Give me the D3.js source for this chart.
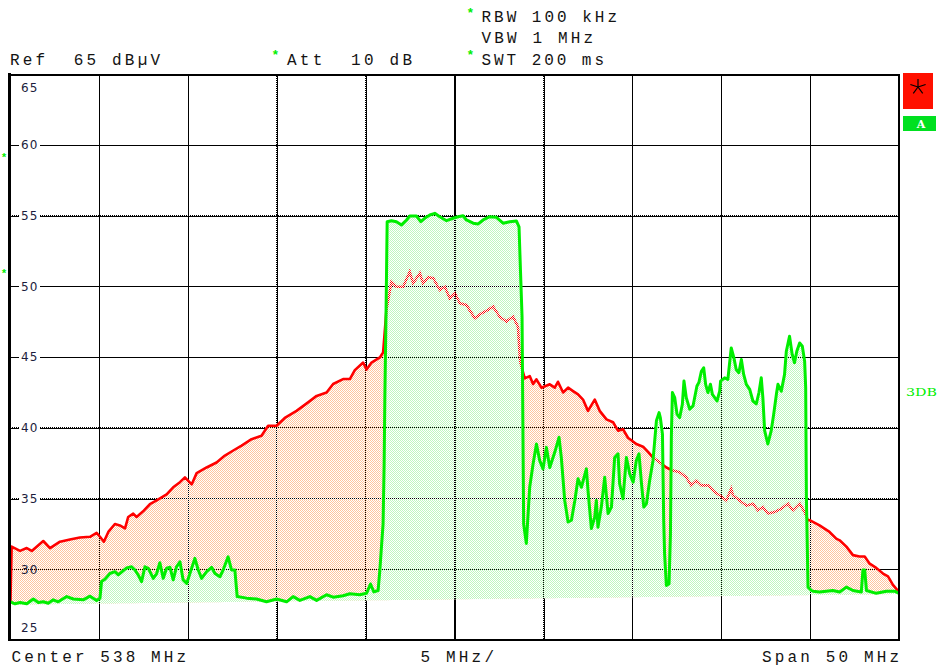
<!DOCTYPE html>
<html><head><meta charset="utf-8">
<script src="https://cdn.jsdelivr.net/npm/d3@7"></script>
<style>html,body{margin:0;padding:0;background:#fff;}svg{display:block;}text{white-space:pre;}</style>
</head><body>
<svg id="chart" width="944" height="669"></svg>
<script>
// ---------- data ----------
const freqDomain = [513, 563];            // Center 538 MHz, span 50 MHz
const levelDomain = [25, 65];             // dBµV
const freqTicks = [513, 518, 523, 528, 533, 538, 543, 548, 553, 558, 563];
const levelTicks = [25, 30, 35, 40, 45, 50, 55, 60, 65];
const levelTickLabels = ["25", "30", "35", "40", "45", "50", "55", "60", "65"];
const headerTexts = ["Ref  65 dBµV", "Att  10 dB", "RBW 100 kHz", "VBW 1 MHz", "SWT 200 ms"];
const footerTexts = ["Center 538 MHz", "5 MHz/", "Span 50 MHz"];
const sideLabel = "3DB";
const traceLabel = "A";
const fillFloor = [[513, 27.5], [563, 28.25]];

// max-hold trace (red)
const redTrace = [[513.00,27.6],[513.07,31.6],[513.54,31.3],[513.92,31.5],[514.20,31.3],[514.85,32.0],[515.23,31.5],[515.79,31.95],[516.35,32.1],[516.91,32.25],[517.48,32.3],[517.85,32.57],[518.04,32.3],[518.26,31.95],[518.51,32.64],[518.88,33.2],[519.16,33.1],[519.45,32.9],[519.63,33.7],[519.91,33.94],[520.10,33.7],[520.47,34.1],[520.85,34.6],[521.23,34.87],[521.79,35.3],[522.16,35.8],[522.54,36.16],[522.82,36.5],[523.20,36.0],[523.48,36.8],[524.04,37.2],[524.60,37.55],[525.07,38.04],[525.54,38.4],[526.01,38.75],[526.57,39.2],[527.13,39.44],[527.50,40.15],[527.98,40.15],[528.44,40.7],[529.10,41.2],[529.75,41.8],[530.23,42.26],[530.79,42.5],[531.16,43.1],[531.72,43.45],[532.10,43.45],[532.38,44.08],[532.85,44.62],[533.04,44.12],[533.32,44.62],[533.79,44.98],[533.97,45.33],[534.16,48.34],[534.44,50.34],[534.72,49.98],[535.10,49.98],[535.47,51.04],[535.66,50.22],[536.04,50.93],[536.22,50.22],[536.50,50.65],[536.79,50.58],[537.16,49.75],[537.44,49.98],[537.72,49.16],[538.01,49.52],[538.29,48.81],[538.66,48.69],[539.13,47.75],[539.51,48.1],[539.88,48.34],[540.16,48.57],[540.53,47.86],[540.91,47.51],[541.28,47.86],[541.56,47.16],[541.66,45.03],[541.70,44.6],[541.94,43.5],[542.22,43.66],[542.41,43.1],[542.60,43.43],[542.88,42.84],[543.35,43.08],[543.63,42.84],[543.81,43.26],[544.10,42.5],[544.38,42.84],[544.66,42.6],[544.94,42.37],[545.22,42.0],[545.50,41.2],[545.88,42.0],[546.16,41.2],[546.54,40.6],[546.91,40.4],[547.19,39.8],[547.47,39.9],[547.75,39.3],[548.22,38.86],[548.60,38.67],[548.88,38.3],[549.16,37.9],[549.53,37.57],[549.91,37.2],[550.28,36.98],[550.66,36.86],[551.03,36.5],[551.31,35.93],[551.60,36.28],[551.88,35.93],[552.25,35.93],[552.63,35.46],[552.91,35.23],[553.28,34.87],[553.56,35.7],[553.66,35.23],[554.03,34.87],[554.41,34.5],[554.78,34.64],[555.06,34.17],[555.34,34.4],[555.62,33.94],[556.00,34.05],[556.38,34.28],[556.75,34.64],[557.03,34.17],[557.41,34.64],[557.69,34.05],[557.87,33.47],[557.97,33.47],[558.53,33.1],[559.09,32.64],[559.47,32.17],[559.66,32.05],[560.04,31.6],[560.41,31.0],[560.78,30.9],[561.07,30.9],[561.35,30.4],[561.72,30.1],[562.10,29.7],[562.38,29.5],[562.66,28.9],[563.00,28.4]];

// clear-write trace (green)
const greenTrace = [[513.00,27.7],[513.26,27.56],[513.54,27.65],[513.92,27.56],[514.29,27.9],[514.57,27.65],[514.85,27.7],[515.13,27.6],[515.41,27.84],[515.69,27.7],[516.17,28.07],[516.54,27.9],[517.10,27.84],[517.48,28.1],[517.85,27.8],[518.04,27.96],[518.13,29.14],[518.32,29.3],[518.60,29.7],[518.88,29.83],[519.07,29.6],[519.54,30.1],[519.82,30.18],[520.01,29.95],[520.19,29.6],[520.38,29.13],[520.57,30.18],[520.76,30.07],[521.04,29.36],[521.23,29.7],[521.41,30.46],[521.60,29.36],[521.79,30.07],[521.98,30.14],[522.16,29.25],[522.35,30.18],[522.54,30.53],[522.72,29.25],[522.92,29.0],[523.10,29.7],[523.38,30.77],[523.57,29.95],[523.76,29.36],[524.04,29.83],[524.32,30.14],[524.51,29.7],[524.79,29.47],[524.97,29.95],[525.25,30.88],[525.44,29.95],[525.63,29.95],[525.76,28.07],[526.29,27.96],[526.85,27.9],[527.41,27.7],[527.98,27.9],[528.54,27.7],[528.91,28.07],[529.29,27.8],[529.85,28.07],[530.23,27.8],[530.79,28.2],[531.16,28.03],[531.72,28.13],[532.10,28.27],[532.66,28.2],[533.04,28.3],[533.26,28.96],[533.45,28.4],[533.69,28.5],[533.79,29.95],[533.88,31.6],[533.97,33.2],[534.03,37.45],[534.07,42.14],[534.13,47.5],[534.20,54.58],[534.44,54.65],[534.72,54.58],[535.01,54.35],[535.29,54.70],[535.47,54.98],[535.85,54.98],[536.09,54.58],[536.31,54.82],[536.60,55.05],[536.88,55.17],[537.16,54.93],[537.54,54.65],[537.91,54.82],[538.19,54.93],[538.47,55.0],[538.66,54.70],[539.04,54.47],[539.32,54.42],[539.60,54.70],[539.97,54.93],[540.35,54.89],[540.72,54.47],[541.10,54.58],[541.47,54.63],[541.62,54.22],[541.70,51.16],[541.79,47.86],[541.88,33.2],[542.03,31.83],[542.22,35.8],[542.41,37.45],[542.60,38.86],[542.78,37.7],[542.97,37.1],[543.16,38.62],[543.35,37.2],[543.63,38.27],[543.87,39.33],[544.00,37.9],[544.19,34.87],[544.38,33.35],[544.57,33.47],[544.76,34.87],[544.94,36.4],[545.13,35.8],[545.41,37.1],[545.50,35.58],[545.69,32.88],[545.88,33.7],[545.97,34.87],[546.06,32.98],[546.25,34.4],[546.44,36.5],[546.63,33.94],[546.82,34.4],[547.00,37.9],[547.19,38.16],[547.28,36.05],[547.47,34.99],[547.66,37.9],[547.85,36.75],[548.04,36.16],[548.22,37.7],[548.37,38.16],[548.51,36.05],[548.64,34.4],[548.79,34.64],[548.97,36.28],[549.16,37.7],[549.35,40.5],[549.50,41.08],[549.57,40.73],[549.69,39.56],[549.76,33.47],[549.81,31.1],[549.91,28.86],[550.06,28.98],[550.14,32.5],[550.19,39.33],[550.25,42.5],[550.38,42.14],[550.51,40.97],[550.66,40.73],[550.81,41.67],[550.90,43.31],[551.03,42.14],[551.22,41.32],[551.41,41.55],[551.63,42.96],[551.74,43.2],[551.88,44.0],[552.01,44.25],[552.12,43.08],[552.25,42.5],[552.39,43.08],[552.50,42.37],[552.63,42.14],[552.76,41.9],[552.91,42.6],[552.96,43.3],[553.19,43.54],[553.37,43.43],[553.56,45.65],[553.71,44.95],[553.84,44.13],[553.99,43.9],[554.13,44.84],[554.26,43.78],[554.41,43.08],[554.60,42.72],[554.78,41.9],[554.97,41.7],[555.12,42.5],[555.25,43.54],[555.34,42.14],[555.44,39.8],[555.62,38.86],[555.81,39.8],[555.95,40.97],[556.10,42.37],[556.19,43.08],[556.38,42.6],[556.56,43.78],[556.66,45.42],[556.84,46.48],[556.99,45.19],[557.12,44.6],[557.25,45.42],[557.41,46.0],[557.56,45.77],[557.69,44.72],[557.75,42.84],[557.79,35.1],[557.88,28.74],[558.07,28.5],[558.16,28.45],[558.53,28.4],[559.28,28.5],[559.66,28.4],[560.04,28.74],[560.41,28.5],[560.88,28.4],[560.97,29.95],[561.07,29.95],[561.17,28.5],[561.72,28.3],[562.29,28.45],[562.76,28.45],[563.00,28.3]];

// ---------- drawing ----------
const svg = d3.select("#chart");
const W = 944, H = 669;
const plot = {left: 10.4, right: 899, top: 74.3, bottom: 640};
const x = d3.scaleLinear().domain(freqDomain).range([plot.left, plot.right]);
const y = d3.scaleLinear().domain(levelDomain).range([plot.bottom, plot.top]);
const floorAt = d3.scaleLinear().domain(fillFloor.map(d => d[0])).range(fillFloor.map(d => d[1]));

const GREEN = "#00ee00", RED = "#ff0000", INK = "#141414";
const MONO = "'Liberation Mono','DejaVu Sans Mono',monospace";

svg.append("rect").attr("width", W).attr("height", H).attr("fill", "#fff");

const defs = svg.append("defs");
function checker(id, color, bg) {
  const p = defs.append("pattern").attr("id", id).attr("patternUnits", "userSpaceOnUse")
    .attr("width", 2).attr("height", 2);
  if (bg) p.append("rect").attr("width", 2).attr("height", 2).attr("fill", bg);
  p.append("rect").attr("x", 0).attr("y", 0).attr("width", 1).attr("height", 1).attr("fill", color);
  p.append("rect").attr("x", 1).attr("y", 1).attr("width", 1).attr("height", 1).attr("fill", color);
}
checker("orangeChk", "#ffc49e", "#fff");
checker("greenChk", "#bff8bf", "#fff");
checker("redChk", RED, null);

const lineGen = d3.line().x(d => x(d[0])).y(d => y(d[1]));
const areaToFloor = d3.area().x(d => x(d[0])).y0(d => y(floorAt(d[0]))).y1(d => y(d[1]));

// clip regions above/below green trace
defs.append("clipPath").attr("id", "aboveGreen").append("path")
  .attr("d", d3.area().x(d => x(d[0])).y0(0).y1(d => y(d[1]))(greenTrace));
defs.append("clipPath").attr("id", "belowGreen").append("path")
  .attr("d", d3.area().x(d => x(d[0])).y0(d => y(d[1])).y1(H)(greenTrace));
defs.append("clipPath").attr("id", "plotClip").append("rect")
  .attr("x", plot.left).attr("y", plot.top).attr("width", plot.right - plot.left).attr("height", plot.bottom - plot.top);

// solid grid via axes
const gridX = svg.append("g").attr("transform", `translate(0,${plot.bottom})`)
  .call(d3.axisBottom(x).tickValues(freqTicks.slice(1, -1)).tickSize(-(plot.bottom - plot.top)).tickFormat(""));
const gridY = svg.append("g").attr("transform", `translate(${plot.left},0)`)
  .call(d3.axisLeft(y).tickValues(levelTicks.slice(1, -1)).tickSize(-(plot.right - plot.left)).tickFormat(""));
[gridX, gridY].forEach(g => {
  g.select(".domain").remove();
  g.selectAll("line").attr("stroke", "#000").attr("stroke-width", 1).attr("shape-rendering", "crispEdges");
});
gridX.selectAll(".tick").filter(d => d === 538).select("line").attr("stroke-width", 2);

// fills
const fills = svg.append("g").attr("clip-path", "url(#plotClip)");
fills.append("path").attr("d", areaToFloor(redTrace)).attr("fill", "url(#orangeChk)");
fills.append("path").attr("d", areaToFloor(greenTrace)).attr("fill", "url(#greenChk)");

// dotted grid over fills
const dots = svg.append("g").attr("shape-rendering", "crispEdges");
dots.selectAll("line.v").data(freqTicks.slice(1, -1)).join("line")
  .attr("x1", d => x(d)).attr("x2", d => x(d)).attr("y1", plot.top).attr("y2", plot.bottom)
  .attr("stroke", "#000").attr("stroke-width", d => d === 538 ? 2 : 1).attr("stroke-dasharray", "1,1");
dots.selectAll("line.h").data(levelTicks.slice(1, -1)).join("line")
  .attr("y1", d => y(d)).attr("y2", d => y(d)).attr("x1", plot.left).attr("x2", plot.right)
  .attr("stroke", "#000").attr("stroke-width", 1).attr("stroke-dasharray", "1,1");

// y tick labels
const labels = svg.append("g");
levelTicks.forEach((v, i) => {
  let cy = y(v);
  if (v === levelDomain[1]) cy = plot.top + 13;
  if (v === levelDomain[0]) cy = plot.bottom - 12;
  if (v !== levelDomain[0] && v !== levelDomain[1] && v !== 30) {
    labels.append("rect").attr("x", 19).attr("y", cy - 6).attr("width", 21).attr("height", 12).attr("fill", "#fff");
  }
  labels.append("text").attr("x", 21).attr("y", cy).attr("dy", "0.36em")
    .attr("font-family", "'DejaVu Sans',sans-serif").attr("font-size", 12).attr("letter-spacing", 1)
    .attr("fill", "#1c1c3c").text(levelTickLabels[i]);
});

// traces
const traces = svg.append("g").attr("clip-path", "url(#plotClip)");
traces.append("path").attr("d", lineGen(redTrace)).attr("fill", "none")
  .attr("stroke", "url(#redChk)").attr("stroke-width", 2.6).attr("clip-path", "url(#belowGreen)");
traces.append("path").attr("d", lineGen(redTrace)).attr("fill", "none")
  .attr("stroke", RED).attr("stroke-width", 2.6).attr("stroke-linejoin", "round").attr("clip-path", "url(#aboveGreen)");
traces.append("path").attr("d", lineGen(greenTrace)).attr("fill", "none")
  .attr("stroke", GREEN).attr("stroke-width", 3).attr("stroke-linejoin", "round");

// frame
const frame = svg.append("g").attr("stroke", "#000").attr("shape-rendering", "crispEdges");
frame.append("line").attr("x1", 9.5).attr("x2", 9.5).attr("y1", 73).attr("y2", 641).attr("stroke-width", 3);
frame.append("line").attr("x1", 8).attr("x2", 900).attr("y1", 74.5).attr("y2", 74.5).attr("stroke-width", 2);
frame.append("line").attr("x1", 899).attr("x2", 899).attr("y1", 73.5).attr("y2", 641).attr("stroke-width", 2);
frame.append("line").attr("x1", 8).attr("x2", 900).attr("y1", 639.5).attr("y2", 639.5).attr("stroke-width", 2);

// header / footer text
function mono(txt, x0, x1, base, size, color) {
  return svg.append("text").attr("x", x0).attr("y", base).attr("font-family", MONO)
    .attr("font-size", size).attr("fill", color).attr("textLength", x1 - x0)
    .attr("lengthAdjust", "spacing").text(txt);
}
function star(cx, cy, size) {
  svg.append("text").attr("x", cx).attr("y", cy).attr("dy", "0.7em").attr("text-anchor", "middle")
    .attr("font-family", MONO).attr("font-size", size).attr("font-weight", "bold").attr("fill", GREEN).text("*");
}
mono(headerTexts[0], 10, 160, 65, 16, INK);
mono(headerTexts[1], 287, 412, 65, 16, INK);
mono(headerTexts[2], 481.5, 617, 22, 16, INK);
mono(headerTexts[3], 481.5, 593, 43, 16, INK);
mono(headerTexts[4], 481.5, 604, 65, 16, INK);
star(275.5, 50, 13);
star(470.5, 8, 13);
star(470.5, 50, 13);
star(4, 153, 11);
star(4, 269, 11);
mono(footerTexts[0], 11.5, 186, 662, 16, INK);
mono(footerTexts[1], 420.5, 494, 662, 16, INK);
mono(footerTexts[2], 762, 899, 662, 16, INK);

// side annotations
svg.append("text").attr("x", 906).attr("y", 396).attr("font-family", "'DejaVu Serif',serif")
  .attr("font-size", 11).attr("fill", GREEN).attr("textLength", 31).attr("lengthAdjust", "spacingAndGlyphs").text(sideLabel);
svg.append("rect").attr("x", 903).attr("y", 73).attr("width", 30).attr("height", 36).attr("fill", "#ff1000");
const sc = [918, 87], arm = 8;
[-90, -18, 54, 126, 198].forEach(a => {
  const r = a * Math.PI / 180;
  svg.append("line").attr("x1", sc[0]).attr("y1", sc[1])
    .attr("x2", sc[0] + arm * Math.cos(r)).attr("y2", sc[1] + arm * Math.sin(r))
    .attr("stroke", "#000").attr("stroke-width", 1.2);
});
svg.append("rect").attr("x", 903).attr("y", 116).attr("width", 33).attr("height", 15).attr("fill", "#00e020");
svg.append("text").attr("x", 921).attr("y", 128).attr("text-anchor", "middle").attr("font-family", "'DejaVu Serif',serif")
  .attr("font-weight", "bold").attr("font-size", 11).attr("fill", "#fff").text(traceLabel);
</script>
</body></html>
